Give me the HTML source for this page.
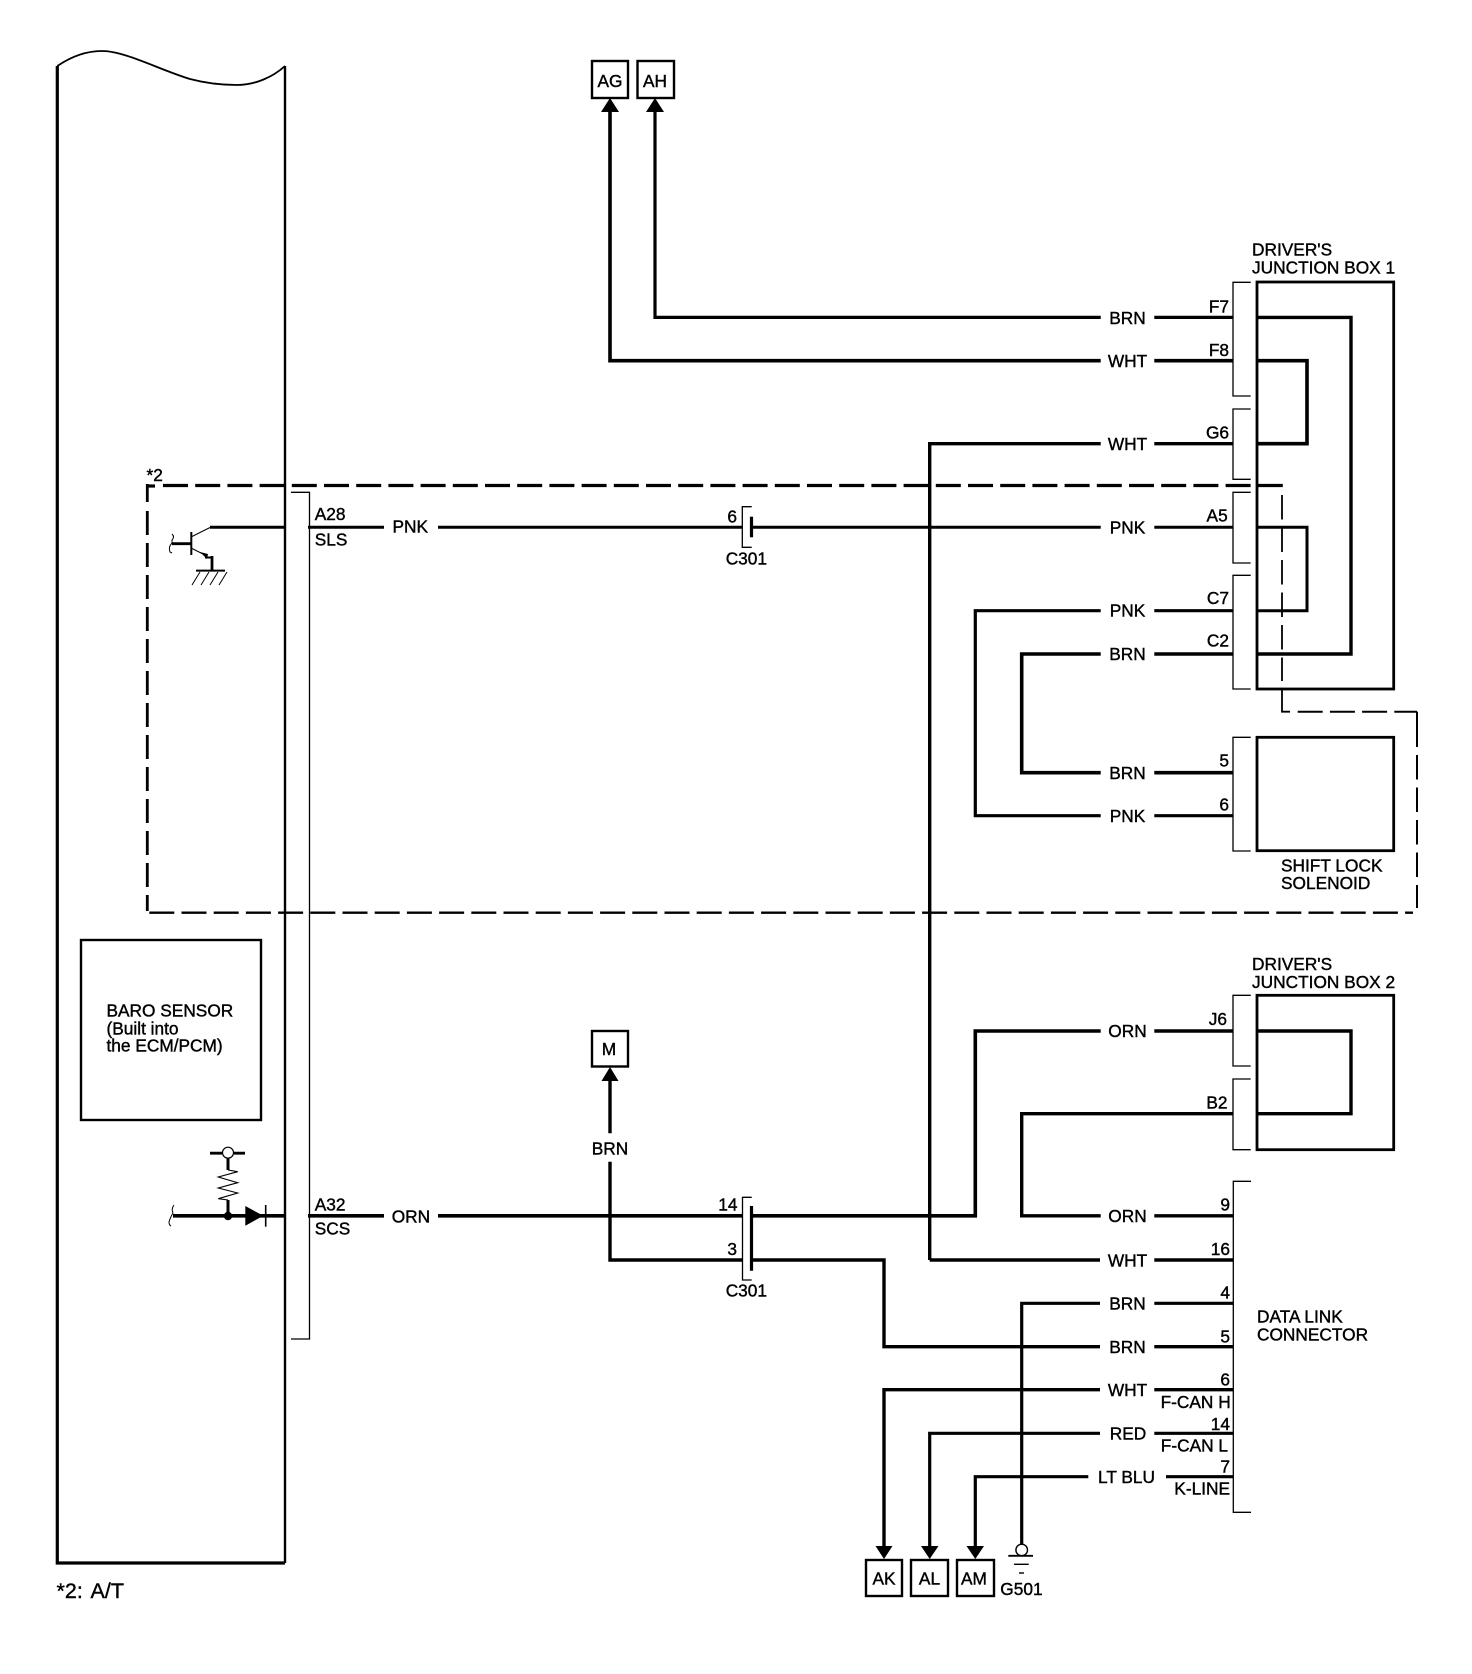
<!DOCTYPE html>
<html>
<head>
<meta charset="utf-8">
<title>Wiring Diagram</title>
<style>
html,body{margin:0;padding:0;background:#fff;}
svg{display:block;}
text{font-family:"Liberation Sans",Arial,sans-serif;font-size:17.3px;fill:#000;stroke:#000;stroke-width:0.4;}
.m{text-anchor:middle;}
.r{text-anchor:end;}
</style>
</head>
<body>
<svg width="1472" height="1674" viewBox="0 0 1472 1674" xmlns="http://www.w3.org/2000/svg">
<rect width="1472" height="1674" fill="#fff"/>

<!-- Main ECM box -->
<g fill="none" stroke="#000">
<path d="M57.3 66 C75 54 90 51 102 51 C125 51 160 70 190 79 C205 83 222 85 237 85 C255 85 273 77 285 66" stroke-width="1.8"/>
<path d="M57.3 66 V1563 H285" stroke-width="3.2"/>
<path d="M285 66 V1563" stroke-width="2.4"/>
</g>

<!-- Dashed boundary -->
<g fill="none" stroke="#000">
<path d="M163 485.5 H1283" stroke-width="3.2" stroke-dasharray="25 7.2"/>
<path d="M147.3 486 H155" stroke-width="3.2"/>
<path d="M147.3 484 V502" stroke-width="2.8"/>
<path d="M147.3 511 V911" stroke-width="2.8" stroke-dasharray="24 8"/>
<path d="M147.3 912.7 H1413" stroke-width="2.4" stroke-dasharray="25 7.2" stroke-dashoffset="-2"/>
<path d="M1282 495 V681" stroke-width="1.8" stroke-dasharray="24.5 8"/>
<path d="M1282 690 V711.7 H1290" stroke-width="1.8"/>
<path d="M1297.7 711.7 H1417" stroke-width="2" stroke-dasharray="25 7.2"/>
<path d="M1417 711.7 V747" stroke-width="2"/>
<path d="M1417 755 V908" stroke-width="2" stroke-dasharray="24.5 8"/>
</g>

<!-- Connector brackets -->
<g fill="none" stroke="#000" stroke-width="1.3">
<path d="M291 492.3 H309.5 V1339 H291"/>
<path d="M1250.7 282.3 H1233 V396 H1250.7"/>
<path d="M1250.7 409 H1233 V479.3 H1250.7"/>
<path d="M1250.7 492.3 H1233 V563 H1250.7"/>
<path d="M1250.7 575.3 H1233 V689 H1250.7"/>
<path d="M1250.7 737.3 H1233 V851 H1250.7"/>
<path d="M1250.7 995.3 H1233 V1066 H1250.7"/>
<path d="M1250.7 1079 H1233 V1149.7 H1250.7"/>
<path d="M1251 1181.3 H1233.3 V1512.3 H1251"/>
<path d="M751.7 506.7 H742.3 V547.3 H751.7"/>
<path d="M751.7 1197.3 H742.5 V1280 H751.7"/>
</g>

<!-- Component boxes -->
<g fill="none" stroke="#000" stroke-width="2.8">
<rect x="1257" y="282" width="136.7" height="407"/>
<rect x="1257" y="737.3" width="136.7" height="113.4"/>
<rect x="1257" y="995.3" width="136.7" height="154.4"/>
<rect x="81" y="940" width="180" height="180" stroke-width="2.4"/>
<rect x="592" y="61" width="36" height="37" stroke-width="2.4"/>
<rect x="637.5" y="61" width="36.5" height="37" stroke-width="2.4"/>
<rect x="592" y="1031" width="36" height="35.5" stroke-width="2.4"/>
<rect x="866" y="1560" width="36" height="36" stroke-width="2.4"/>
<rect x="911" y="1560" width="37" height="36" stroke-width="2.4"/>
<rect x="957" y="1560" width="37" height="36" stroke-width="2.4"/>
</g>

<!-- Wires -->
<g fill="none" stroke="#000" stroke-width="3.2" stroke-linejoin="miter">
<path d="M655 110 V317.4 H1100.7 M1154.3 317.4 H1233" stroke-width="3.2"/>
<path d="M610 110 V360.7 H1100.7 M1154.3 360.7 H1233" stroke-width="3.6"/>
<path d="M929.7 1260 V443.7 H1100.7 M1154.3 443.7 H1233" stroke-width="3.4"/>
<path d="M210 527.3 H285" stroke-width="3"/>
<path d="M308 527.3 H384 M438 527.3 H742.3 M751.7 527.3 H1100.7 M1154.3 527.3 H1233" stroke-width="3"/>
<path d="M1100.7 610.7 H975.3 V815.7 H1100.7 M1154.3 610.7 H1233 M1154.3 815.7 H1233" stroke-width="3.2"/>
<path d="M1100.7 654 H1021.7 V772.7 H1100.7 M1154.3 654 H1233 M1154.3 772.7 H1233" stroke-width="3.6"/>
<path d="M1257 317.4 H1351 V654 H1257" stroke-width="3.4"/>
<path d="M1257 360.7 H1307 V443.7 H1257" stroke-width="3.6"/>
<path d="M1257 527.3 H1307 V610.7 H1257" stroke-width="3"/>
<path d="M1257 1031 H1351 V1113.7 H1257" stroke-width="3.4"/>
<path d="M173 1215.8 H285 M308 1215.8 H384 M438 1215.8 H742.5 M751.7 1215.8 H975.3 V1031 H1100.7 M1154.3 1031 H1233" stroke-width="3.6"/>
<path d="M1233 1113.7 H1021.7 V1215.8 H1100.7 M1154.3 1215.8 H1233" stroke-width="3.4"/>
<path d="M929.7 1260 H1100 M1154.3 1260 H1233" stroke-width="3.4"/>
<path d="M610 1080 V1133.3 M610 1161.7 V1260 H742.5 M751.7 1260 H884 V1346.7 H1100 M1154.3 1346.7 H1233" stroke-width="3.4"/>
<path d="M1021.7 1545 V1303.3 H1100 M1154.3 1303.3 H1233" stroke-width="3.2"/>
<path d="M884 1548 V1389.7 H1100 M1154.3 1389.7 H1233" stroke-width="3.4"/>
<path d="M929.7 1548 V1433.3 H1100 M1154.3 1433.3 H1233" stroke-width="3.2"/>
<path d="M975.3 1548 V1476.7 H1088.3 M1166 1476.7 H1233" stroke-width="3.2"/>
<path d="M751.5 516.7 V537.3" stroke-width="3.2"/>
<path d="M751.5 1206 V1270.7" stroke-width="3.2"/>
</g>

<!-- Arrowheads -->
<g fill="#000" stroke="none">
<polygon points="610,98 601,112 619,112"/>
<polygon points="655,98 646,112 664,112"/>
<polygon points="610,1067 601.5,1081 618.5,1081"/>
<polygon points="884,1559 875.5,1546 892.5,1546"/>
<polygon points="929.7,1559 921,1546 938.5,1546"/>
<polygon points="975.3,1559 966.5,1546 984,1546"/>
</g>

<!-- G501 ground -->
<g fill="none" stroke="#000" stroke-width="1.4">
<circle cx="1021.7" cy="1550" r="5.8"/>
<path d="M1008.3 1555.8 H1033" stroke-width="1.8"/>
<path d="M1014 1564.3 H1028.7"/>
<path d="M1019 1573 H1024"/>
</g>

<!-- Transistor -->
<g fill="none" stroke="#000">
<path d="M191.3 532 V555" stroke-width="2"/>
<path d="M172 543.7 H191" stroke-width="2.8"/>
<path d="M172 534 Q175 537 172 540 L172 543 Q168 547 170 552 L172 553" stroke-width="1"/>
<path d="M191 537 L210 527.5" stroke-width="1"/>
<path d="M191 548 L207 556" stroke-width="1"/>
<path d="M212 556 V570" stroke-width="2.8"/>
<path d="M205 557.5 H212" stroke-width="2"/>
<path d="M196 570.6 H225" stroke-width="2"/>
<path d="M200 572 L192 585 M209 572 L201 585 M218 572 L210 585 M227 572 L219 585" stroke-width="1"/>
</g>
<polygon points="200,552 208,554 207,559" fill="#000"/>

<!-- SCS circuit -->
<g fill="none" stroke="#000">
<path d="M174 1205 Q171 1209 173 1213 Q170 1218 169 1222 Q169 1225 171 1226" stroke-width="1"/>
<path d="M210 1153.2 H222 M234 1153.2 H245" stroke-width="2.8"/>
<circle cx="228" cy="1152.7" r="5.5" stroke-width="1.2"/>
<path d="M228 1158 V1170 M228 1200 V1216" stroke-width="3"/>
<path d="M228 1170 L237.7 1171.7 L218.3 1177 L237.7 1182.7 L218.3 1188 L237.7 1193 L218.3 1198.7 L228 1200" stroke-width="1.1"/>
<path d="M265.7 1205 V1226.7" stroke-width="1.6"/>
</g>
<circle cx="228" cy="1216" r="4.2" fill="#000"/>
<polygon points="245.3,1206 245.3,1225.7 263.3,1215.8" fill="#000"/>

<!-- Box labels -->
<text x="610" y="87" class="m">AG</text>
<text x="655" y="87" class="m">AH</text>
<text x="609" y="1055" class="m">M</text>
<text x="884" y="1584.3" class="m">AK</text>
<text x="929.5" y="1584.3" class="m">AL</text>
<text x="974" y="1584.3" class="m">AM</text>
<text x="1000.3" y="1595">G501</text>

<text x="146.5" y="481">*2</text>
<text x="56.5" y="1598" style="font-size:21.5px">*2:<tspan x="90.5">A/T</tspan></text>

<text x="314.7" y="520">A28</text>
<text x="314.7" y="545.7">SLS</text>
<text x="392.5" y="532.4">PNK</text>
<text x="314.7" y="1210.7">A32</text>
<text x="314.7" y="1234.7">SCS</text>
<text x="391.7" y="1222.3">ORN</text>

<text x="737" y="522.7" class="r">6</text>
<text x="725.7" y="564.7">C301</text>
<text x="737.5" y="1210.7" class="r">14</text>
<text x="737" y="1255" class="r">3</text>
<text x="725.7" y="1296.7">C301</text>
<text x="610" y="1154.3" class="m">BRN</text>

<text x="106.5" y="1016.7">BARO SENSOR</text>
<text x="106.5" y="1034.3">(Built into</text>
<text x="106.5" y="1051.7">the ECM/PCM)</text>

<text x="1252" y="255.3">DRIVER'S</text>
<text x="1252" y="273.3">JUNCTION BOX 1</text>
<text x="1252" y="970">DRIVER'S</text>
<text x="1252" y="988">JUNCTION BOX 2</text>
<text x="1281" y="871.7">SHIFT LOCK</text>
<text x="1281" y="889">SOLENOID</text>
<text x="1257" y="1322.5">DATA LINK</text>
<text x="1257" y="1340.5">CONNECTOR</text>

<!-- Wire colour labels -->
<text x="1127.5" y="324" class="m">BRN</text>
<text x="1127.5" y="367.2" class="m">WHT</text>
<text x="1127.5" y="450.2" class="m">WHT</text>
<text x="1127.5" y="533.3" class="m">PNK</text>
<text x="1127.5" y="616.7" class="m">PNK</text>
<text x="1127.5" y="660.2" class="m">BRN</text>
<text x="1127.5" y="778.8" class="m">BRN</text>
<text x="1127.5" y="822" class="m">PNK</text>
<text x="1127.5" y="1037" class="m">ORN</text>
<text x="1127.5" y="1222.2" class="m">ORN</text>
<text x="1127.5" y="1266.4" class="m">WHT</text>
<text x="1127.5" y="1309.6" class="m">BRN</text>
<text x="1127.5" y="1352.8" class="m">BRN</text>
<text x="1127.5" y="1396" class="m">WHT</text>
<text x="1128" y="1439.6" class="m">RED</text>
<text x="1126.5" y="1483" class="m">LT BLU</text>

<!-- Pin labels -->
<text x="1229" y="312.3" class="r">F7</text>
<text x="1229" y="356" class="r">F8</text>
<text x="1229" y="438.3" class="r">G6</text>
<text x="1227.7" y="521.7" class="r">A5</text>
<text x="1229" y="604" class="r">C7</text>
<text x="1229" y="646.7" class="r">C2</text>
<text x="1229" y="766.7" class="r">5</text>
<text x="1229" y="810.7" class="r">6</text>
<text x="1227" y="1025" class="r">J6</text>
<text x="1227.5" y="1108.3" class="r">B2</text>
<text x="1230" y="1210.7" class="r">9</text>
<text x="1230" y="1255" class="r">16</text>
<text x="1230" y="1298.3" class="r">4</text>
<text x="1230" y="1342.3" class="r">5</text>
<text x="1230" y="1385.7" class="r">6</text>
<text x="1230.7" y="1408" class="r">F-CAN H</text>
<text x="1230" y="1430" class="r">14</text>
<text x="1228" y="1451.7" class="r">F-CAN L</text>
<text x="1230" y="1472.7" class="r">7</text>
<text x="1230" y="1494.6" class="r">K-LINE</text>
</svg>
</body>
</html>
